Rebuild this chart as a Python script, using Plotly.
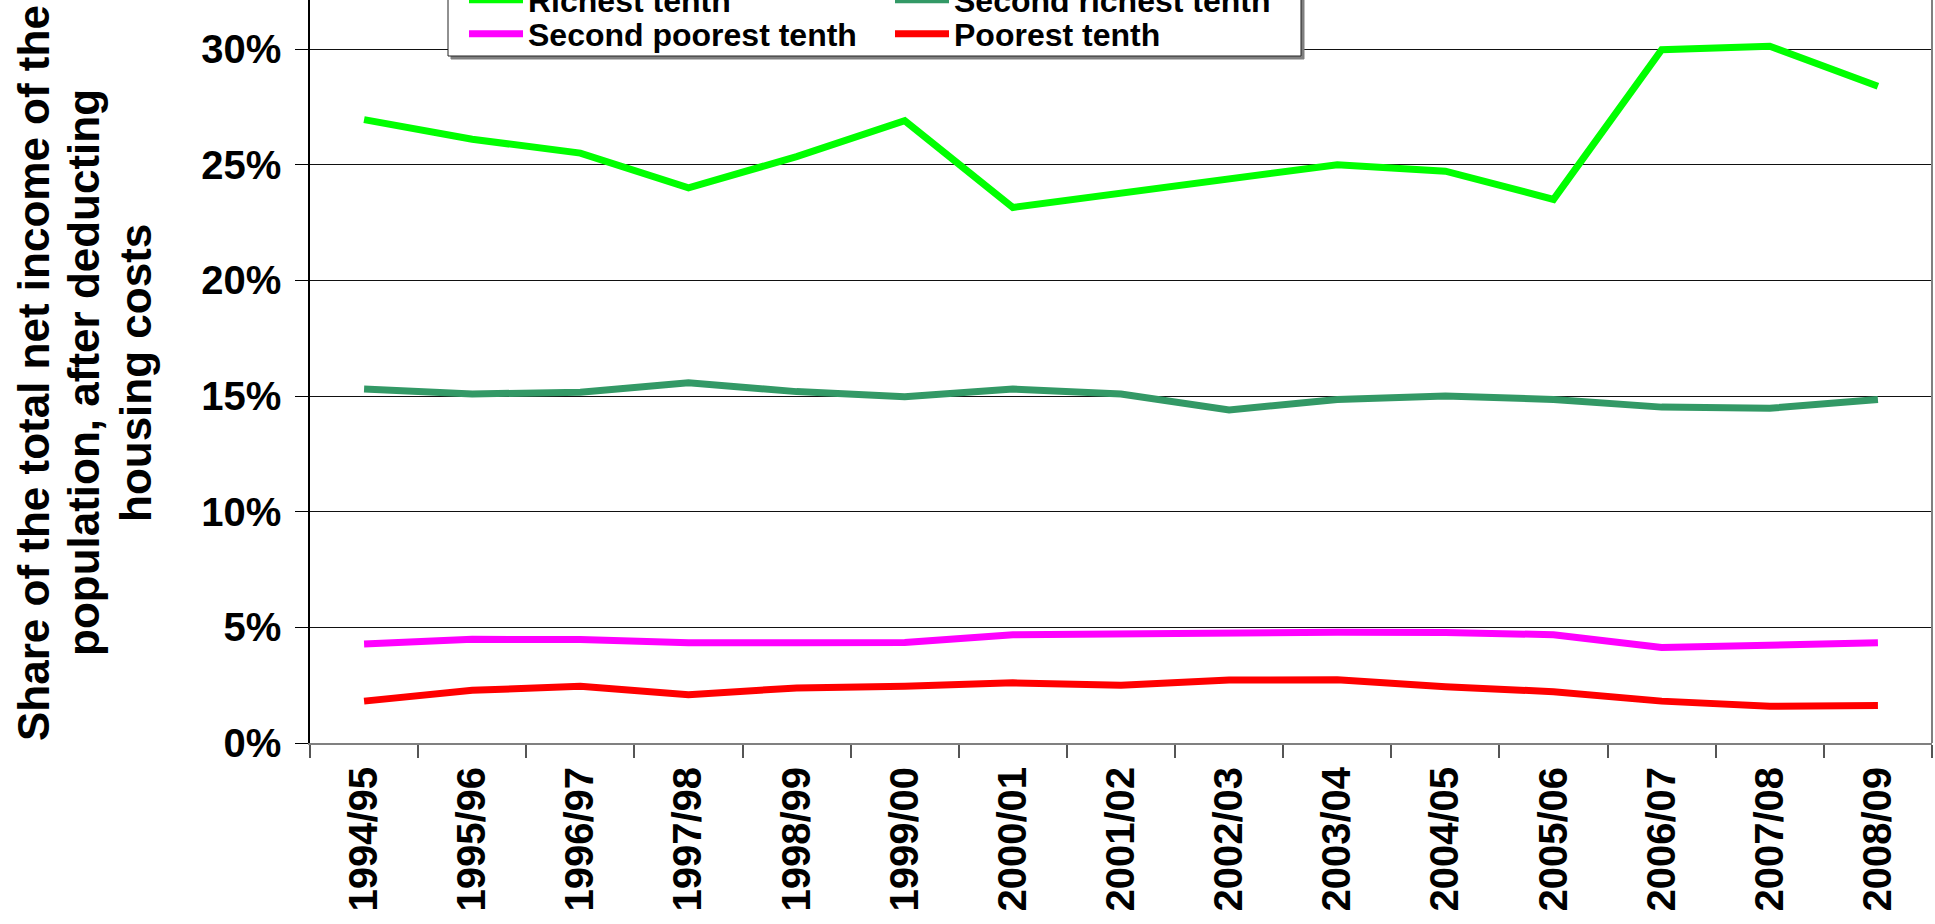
import plotly.graph_objects as go

years = ["1994/95", "1995/96", "1996/97", "1997/98", "1998/99", "1999/00", "2000/01",
         "2001/02", "2002/03", "2003/04", "2004/05", "2005/06", "2006/07", "2007/08", "2008/09"]

richest = [26.95, 26.10, 25.50, 24.00, 25.35, 26.90, 23.15, 23.75, 24.40, 25.00, 24.72, 23.50, 29.97, 30.12, 28.39]
second_richest = [15.30, 15.09, 15.16, 15.57, 15.19, 14.97, 15.30, 15.09, 14.40, 14.85, 15.00, 14.85, 14.52, 14.47, 14.85]
second_poorest = [4.28, 4.48, 4.47, 4.33, 4.33, 4.35, 4.68, 4.74, 4.77, 4.79, 4.78, 4.68, 4.13, 4.20, 4.33]
poorest = [1.81, 2.28, 2.45, 2.09, 2.38, 2.45, 2.60, 2.50, 2.72, 2.73, 2.43, 2.22, 1.81, 1.59, 1.62]

series_names = ["Richest tenth", "Second richest tenth", "Second poorest tenth", "Poorest tenth"]
series_values = [richest, second_richest, second_poorest, poorest]
series_colors = ["#00FF00", "#339966", "#FF00FF", "#FF0000"]
legend_ids = ["legend", "legend2", "legend3", "legend4"]

title_lines = ["Share of the total net income of the", "population, after deducting", "housing costs"]

FONT = "Arial, Liberation Sans, sans-serif"
W, H = 1935, 924
ML, MR, MT, MB = 310, 3, 0, 181
PW = W - ML - MR
PH = H - MT - MB

def px_x(x):
    return (x - ML) / PW

def px_y(y):
    return (MT + PH - y) / PH

fig = go.Figure()
for name, vals, col, lid in zip(series_names, series_values, series_colors, legend_ids):
    fig.add_trace(go.Scatter(
        x=years, y=[v / 100 for v in vals], mode="lines", name=name,
        line=dict(color=col, width=7), legend=lid, hoverinfo="skip"))

legend_font = dict(family=FONT, size=32, color="black", weight="bold")
leg_pos = [(464, 0), (890, 0), (464, 34), (890, 34)]
legends = {}
for lid, (lx, ly) in zip(legend_ids, leg_pos):
    legends[lid] = dict(x=px_x(lx), y=px_y(ly), xanchor="left", yanchor="middle",
                        orientation="h", bgcolor="rgba(0,0,0,0)", borderwidth=0,
                        font=legend_font, itemwidth=54)

shapes = [
    # legend frame shadow
    dict(type="rect", xref="paper", yref="paper", x0=px_x(451), x1=px_x(1304),
         y0=px_y(59), y1=1.2, line=dict(color="#808080", width=1), fillcolor="#808080",
         layer="above"),
    # legend frame
    dict(type="rect", xref="paper", yref="paper", x0=px_x(448), x1=px_x(1301),
         y0=px_y(56), y1=1.2, line=dict(color="#222222", width=1), fillcolor="white",
         layer="above"),
    # right border
    dict(type="line", xref="paper", yref="paper", x0=1, x1=1, y0=0, y1=1,
         line=dict(color="#808080", width=2), layer="above"),
]

annotations = []
for txt, cx in zip(title_lines, [34, 84, 136]):
    annotations.append(dict(text=txt, textangle=-90, xref="paper", yref="paper",
                            x=px_x(cx), y=0.498, xanchor="center", yanchor="middle",
                            showarrow=False,
                            font=dict(family=FONT, size=44, color="black", weight="bold")))

fig.update_layout(
    width=W, height=H,
    margin=dict(l=ML, r=MR, t=MT, b=MB, autoexpand=False),
    paper_bgcolor="white", plot_bgcolor="white",
    font=dict(family=FONT, color="black"),
    shapes=shapes, annotations=annotations,
    showlegend=True,
    **legends,
)

fig.update_xaxes(
    type="category", tickangle=-90, ticks="outside", ticklen=13, tickcolor="#555555",
    tickwidth=1.5, tickson="boundaries", showgrid=False,
    showline=True, linecolor="#808080", linewidth=2,
    tickfont=dict(family=FONT, size=40, color="black", weight="bold"),
    range=[-0.5, len(years) - 0.5], ticklabelstandoff=6,
)

fig.update_yaxes(
    range=[0, 0.3212], dtick=0.05, tick0=0, tickformat=".0%",
    ticks="outside", ticklen=13, tickcolor="black", tickwidth=1,
    showgrid=True, gridcolor="#111111", gridwidth=1,
    showline=True, linecolor="black", linewidth=1.5, zeroline=False,
    tickfont=dict(family=FONT, size=40, color="black", weight="bold"),
    ticklabelstandoff=6,
)

fig.write_html(
    "out.html",
    config={"displayModeBar": False},
    post_script="document.body.style.margin='0';document.body.style.overflow='hidden';",
)
